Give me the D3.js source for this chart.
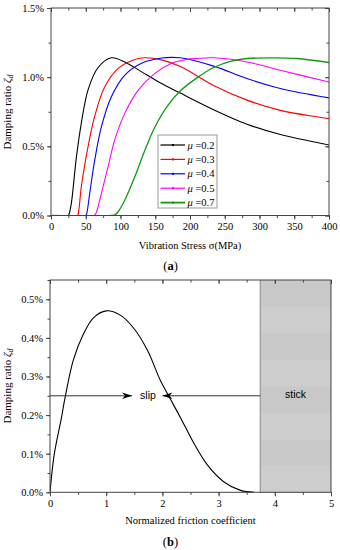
<!DOCTYPE html>
<html>
<head>
<meta charset="utf-8">
<script src="https://cdn.jsdelivr.net/npm/d3@7"></script>
<style>
body { margin: 0; background: #fff; }
text { font-family: "Liberation Serif", "Times New Roman", serif; }
</style>
</head>
<body>
<div class="chart"></div>
<script>
// ---- (a) damping ratio (%) vs vibration stress (MPa), one list per mu
const muLabels = ["0.2", "0.3", "0.4", "0.5", "0.7"];
const muColors = ["#000000", "#ff0000", "#0000ff", "#ff00ff", "#119911"];

const curveMu02 = [[0,0],[25,0],[26,0.01],[29.3,0.09],[36.5,0.42],[43.7,0.67],[53.4,0.91],[67.8,1.07],[87,1.14],[106,1.11],[130,1.04],[155,0.965],[186,0.885],[234,0.765],[282,0.66],[330,0.585],[400,0.51]];
const curveMu03 = [[0,0],[38,0],[40,0.04],[43.7,0.21],[53.4,0.50],[63,0.72],[77.4,0.93],[96.6,1.063],[120.6,1.128],[135,1.14],[159,1.125],[187,1.075],[234,0.94],[282,0.834],[330,0.76],[400,0.70]];
const curveMu04 = [[0,0],[50,0],[52,0.03],[55.7,0.16],[62.9,0.40],[72.5,0.64],[87,0.86],[106.3,1.015],[130.3,1.10],[159,1.138],[186,1.14],[234,1.08],[282,0.99],[330,0.918],[400,0.85]];
const curveMu05 = [[0,0],[62,0],[65,0.02],[67.8,0.064],[72.5,0.16],[82,0.35],[91.6,0.545],[106.3,0.74],[125.5,0.906],[149.5,1.027],[173.6,1.10],[195,1.128],[210,1.135],[234,1.14],[282,1.11],[330,1.05],[400,0.965]];
const curveMu07 = [[0,0],[87,0],[92,0.005],[96.6,0.027],[106.3,0.112],[120.6,0.28],[135,0.47],[149.5,0.64],[168.7,0.80],[187,0.905],[210,0.995],[234,1.07],[258,1.115],[282,1.135],[320,1.14],[354,1.135],[400,1.106]];
const curvesA = [curveMu02, curveMu03, curveMu04, curveMu05, curveMu07];

const xTicksA = [0, 50, 100, 150, 200, 250, 300, 350, 400];
const yTicksA = [0, 0.5, 1.0, 1.5];

// ---- (b) damping ratio (%) vs normalized friction coefficient
const frictionX = [0, 0.077, 0.2, 0.268, 0.416, 0.595, 0.773, 1.0, 1.25, 1.49, 1.73, 1.96, 2.11, 2.32, 2.56, 2.80, 3.09, 3.39, 3.63];
const dampingB  = [0, 0.1, 0.19, 0.245, 0.343, 0.41, 0.452, 0.47, 0.459, 0.425, 0.369, 0.291, 0.25, 0.194, 0.127, 0.071, 0.0275, 0.005, 0];
const xTicksB = [0, 1, 2, 3, 4, 5];
const yTicksB = [0, 0.1, 0.2, 0.3, 0.4, 0.5];
const stickStart = 3.74;
const slipLevel = 0.25;
const slipArrowEnd = 1.46;
const stickArrowEnd = 2.0;

const W = 340, H = 550;
const axisColor = "#444";

const svg = d3.select(".chart").append("svg")
    .attr("width", W)
    .attr("height", H);

const defs = svg.append("defs");
defs.append("marker")
    .attr("id", "head")
    .attr("viewBox", "-11 -4 12 8")
    .attr("refX", 0).attr("refY", 0)
    .attr("markerWidth", 12).attr("markerHeight", 8)
    .attr("markerUnits", "userSpaceOnUse")
    .attr("orient", "auto")
    .append("path")
    .attr("d", "M0,0 L-10,-3.3 L-7,0 L-10,3.3 Z")
    .attr("fill", "#000");

const pct = d => d3.format(".1f")(d) + "%";

function styleAxis(g) {
    g.selectAll(".domain").remove();
    g.selectAll("line").attr("stroke", axisColor).attr("stroke-width", 1);
    g.selectAll("text")
        .attr("font-size", 10.5)
        .attr("fill", "#000");
}

function clip(id, x, y) {
    defs.append("clipPath").attr("id", id)
        .append("rect")
        .attr("x", x.range()[0]).attr("y", y.range()[1])
        .attr("width", x.range()[1] - x.range()[0])
        .attr("height", y.range()[0] - y.range()[1] + 0.5);
}

function frame(x, y) {
    svg.append("rect")
        .attr("x", x.range()[0]).attr("y", y.range()[1])
        .attr("width", x.range()[1] - x.range()[0])
        .attr("height", y.range()[0] - y.range()[1])
        .attr("fill", "none")
        .attr("stroke", axisColor)
        .attr("stroke-width", 1);
}

function axes(x, y, xMajor, xMinor, yMajor, yMinor, yFmt, drawRight) {
    const y0 = y.range()[0], y1 = y.range()[1];
    const x0 = x.range()[0], x1 = x.range()[1];
    // bottom (outward)
    svg.append("g").attr("transform", `translate(0,${y0})`)
        .call(d3.axisBottom(x).tickValues(xMinor).tickSize(2.5).tickFormat(""))
        .call(styleAxis);
    svg.append("g").attr("transform", `translate(0,${y0})`)
        .call(d3.axisBottom(x).tickValues(xMajor).tickSize(4).tickPadding(3).tickFormat(d3.format("d")))
        .call(styleAxis);
    // top (inward)
    svg.append("g").attr("transform", `translate(0,${y1})`)
        .call(d3.axisTop(x).tickValues(xMinor).tickSize(-2.5).tickFormat(""))
        .call(styleAxis);
    svg.append("g").attr("transform", `translate(0,${y1})`)
        .call(d3.axisTop(x).tickValues(xMajor).tickSize(-4).tickFormat(""))
        .call(styleAxis);
    // left (outward)
    svg.append("g").attr("transform", `translate(${x0},0)`)
        .call(d3.axisLeft(y).tickValues(yMinor).tickSize(2.5).tickFormat(""))
        .call(styleAxis);
    svg.append("g").attr("transform", `translate(${x0},0)`)
        .call(d3.axisLeft(y).tickValues(yMajor).tickSize(4).tickPadding(3).tickFormat(yFmt))
        .call(styleAxis);
    if (drawRight) {
        svg.append("g").attr("transform", `translate(${x1},0)`)
            .call(d3.axisRight(y).tickValues(yMinor).tickSize(-2.5).tickFormat(""))
            .call(styleAxis);
        svg.append("g").attr("transform", `translate(${x1},0)`)
            .call(d3.axisRight(y).tickValues(yMajor).tickSize(-4).tickFormat(""))
            .call(styleAxis);
    }
}

function yTitle(cy) {
    const t = svg.append("text")
        .attr("transform", `translate(10.5,${cy}) rotate(-90)`)
        .attr("text-anchor", "middle")
        .attr("font-size", 11)
        .attr("fill", "#000");
    t.append("tspan").text("Damping ratio ");
    t.append("tspan").attr("font-style", "italic").text("ζ");
    t.append("tspan").attr("font-style", "italic").attr("font-size", 8).attr("dy", 2.5).text("d");
}

// ================= (a) =================
const xA = d3.scaleLinear().domain([0, 400]).range([51, 329]);
const yA = d3.scaleLinear().domain([0, 1.5]).range([215.5, 8]);
clip("clipA", xA, yA);

const lineA = d3.line()
    .x(d => xA(d[0]))
    .y(d => yA(d[1]))
    .curve(d3.curveCatmullRom.alpha(0.5));

svg.append("g")
    .attr("clip-path", "url(#clipA)")
    .selectAll("path")
    .data(curvesA)
    .join("path")
    .attr("d", lineA)
    .attr("fill", "none")
    .attr("stroke", (d, i) => muColors[i])
    .attr("stroke-width", (d, i) => i === 4 ? 1.3 : 1.1);

frame(xA, yA);
axes(xA, yA, xTicksA, d3.range(0, 401, 25), yTicksA, d3.range(0, 1.51, 0.25), pct, true);

// legend
const leg = svg.append("g").attr("transform", "translate(158,135)");
leg.append("rect")
    .attr("width", 59).attr("height", 73)
    .attr("fill", "#fff")
    .attr("stroke", "#999")
    .attr("stroke-width", 1);
muLabels.forEach((m, i) => {
    const ly = 10 + i * 14.4;
    leg.append("line")
        .attr("x1", 2.5).attr("x2", 27)
        .attr("y1", ly).attr("y2", ly)
        .attr("stroke", muColors[i])
        .attr("stroke-width", i === 4 ? 1.8 : 1.2);
    leg.append("rect")
        .attr("x", 14).attr("y", ly - 1).attr("width", 2).attr("height", 2)
        .attr("fill", muColors[i]);
    const t = leg.append("text")
        .attr("x", 29.5).attr("y", ly + 3.6)
        .attr("font-size", 10.5)
        .attr("fill", "#000");
    t.append("tspan").attr("font-style", "italic").text("μ");
    t.append("tspan").text(" =" + m);
});

svg.append("text")
    .attr("x", 190).attr("y", 249)
    .attr("text-anchor", "middle")
    .attr("font-size", 10.5)
    .text("Vibration Stress σ(MPa)");

const capA = svg.append("text")
    .attr("x", 170.5).attr("y", 270)
    .attr("text-anchor", "middle")
    .attr("font-size", 12.5);
capA.append("tspan").text("(");
capA.append("tspan").attr("font-weight", "bold").text("a");
capA.append("tspan").text(")");

yTitle(112);

// ================= (b) =================
const xB = d3.scaleLinear().domain([0, 5]).range([50, 331]);
const yB = d3.scaleLinear().domain([0, 0.55]).range([492.3, 280]);
clip("clipB", xB, yB);

// stick region with soft banding
const bandCount = 8;
const bandH = (yB.range()[0] - yB.range()[1]) / bandCount;
svg.append("g").selectAll("rect")
    .data(d3.range(bandCount))
    .join("rect")
    .attr("x", xB(stickStart))
    .attr("y", i => yB.range()[1] + i * bandH)
    .attr("width", xB(5) - xB(stickStart))
    .attr("height", bandH + 0.5)
    .attr("fill", i => i % 2 ? "#cdcdcd" : "#c8c8c8");
svg.append("line")
    .attr("x1", xB(stickStart)).attr("x2", xB(stickStart))
    .attr("y1", yB.range()[1]).attr("y2", yB.range()[0])
    .attr("stroke", "#888").attr("stroke-width", 1);

const lineB = d3.line()
    .x((d, i) => xB(frictionX[i]))
    .y(d => yB(d))
    .curve(d3.curveCatmullRom.alpha(0.5));

svg.append("path")
    .attr("clip-path", "url(#clipB)")
    .attr("d", lineB(dampingB))
    .attr("fill", "none")
    .attr("stroke", "#000")
    .attr("stroke-width", 1.1);

// slip / stick arrows
svg.append("line")
    .attr("x1", xB(0)).attr("x2", xB(slipArrowEnd))
    .attr("y1", yB(slipLevel)).attr("y2", yB(slipLevel))
    .attr("stroke", "#333").attr("stroke-width", 1)
    .attr("marker-end", "url(#head)");
svg.append("line")
    .attr("x1", xB(stickStart)).attr("x2", xB(stickArrowEnd))
    .attr("y1", yB(slipLevel)).attr("y2", yB(slipLevel))
    .attr("stroke", "#333").attr("stroke-width", 1)
    .attr("marker-end", "url(#head)");

svg.append("text")
    .attr("x", 148).attr("y", yB(slipLevel) + 3.5)
    .attr("text-anchor", "middle")
    .style("font-family", "'Liberation Sans', Arial, sans-serif")
    .attr("font-size", 10.5)
    .text("slip");
svg.append("text")
    .attr("x", (xB(stickStart) + xB(5)) / 2).attr("y", yB(slipLevel) + 2.5)
    .attr("text-anchor", "middle")
    .style("font-family", "'Liberation Sans', Arial, sans-serif")
    .attr("font-size", 10.5)
    .text("stick");

frame(xB, yB);
axes(xB, yB, xTicksB, d3.range(0, 5.01, 0.5), yTicksB, d3.range(0, 0.551, 0.05), pct, false);

svg.append("text")
    .attr("x", 190.5).attr("y", 524)
    .attr("text-anchor", "middle")
    .attr("font-size", 10.5)
    .text("Normalized friction coefficient");

const capB = svg.append("text")
    .attr("x", 170.5).attr("y", 546)
    .attr("text-anchor", "middle")
    .attr("font-size", 12.5);
capB.append("tspan").text("(");
capB.append("tspan").attr("font-weight", "bold").text("b");
capB.append("tspan").text(")");

yTitle(386);
</script>
</body>
</html>
